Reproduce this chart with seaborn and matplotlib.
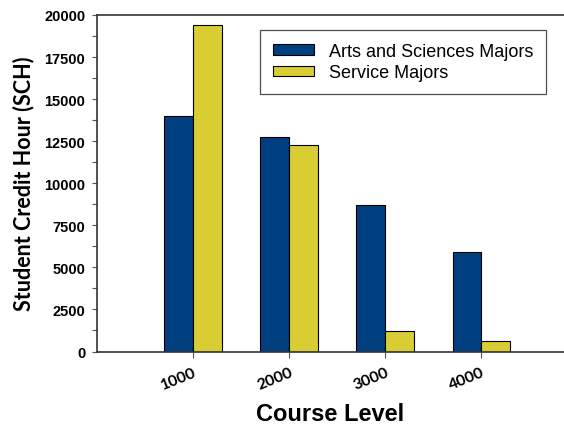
import pandas as pd
import seaborn as sns
import matplotlib.pyplot as plt
from matplotlib.ticker import MultipleLocator

# values
levels = ['1000', '2000', '3000', '4000']
arts_sciences = [14000, 12750, 8700, 5900]
service = [19400, 12300, 1200, 600]
series_names = ['Arts and Sciences Majors', 'Service Majors']
colors = ['#003F80', '#DACD33']

df = pd.DataFrame({
    'level': levels * 2,
    'sch': arts_sciences + service,
    'group': [series_names[0]] * len(levels) + [series_names[1]] * len(levels),
})

sns.set_style('ticks', {'text.color': 'black', 'axes.labelcolor': 'black',
                        'xtick.color': 'black', 'ytick.color': 'black'})
plt.rcParams['font.family'] = ['Liberation Sans', 'DejaVu Sans']

fig = plt.figure(figsize=(5.64, 4.31), dpi=100)
ax = fig.add_axes([97 / 564, 1 - 352.5 / 431, 467 / 564, 336.5 / 431])

sns.barplot(data=df, x='level', y='sch', hue='group', palette=colors,
            saturation=1, width=0.6, edgecolor='black', linewidth=0.8, ax=ax)

ax.set_xlim(-1, 3.86)
ax.set_ylim(0, 20000)
ax.yaxis.set_major_locator(MultipleLocator(2500))
ax.yaxis.set_minor_locator(MultipleLocator(1250))

for s in ['left', 'bottom', 'top']:
    ax.spines[s].set_color('#333333')
    ax.spines[s].set_linewidth(1.2)
ax.spines['right'].set_visible(False)

ax.tick_params(axis='y', which='both', length=3.5, width=0.8, color='#555555', pad=5)
ax.tick_params(axis='x', length=4, width=0.8, color='#555555', pad=6)
for lab in ax.get_yticklabels():
    lab.set_fontweight('bold')
    lab.set_fontsize(10.5)
ax.set_xticks(range(len(levels)))
ax.set_xticklabels(levels, rotation=22, ha='right', rotation_mode='anchor',
                   fontsize=11.5, fontweight='bold', family=['Lato', 'DejaVu Sans'])

ax.set_xlabel('Course Level', fontsize=17, fontweight='bold', labelpad=7)
ax.set_ylabel('Student Credit Hour (SCH)', fontsize=15.5, fontweight='bold',
              family=['Lato', 'DejaVu Sans'], labelpad=7)

leg = ax.legend(loc='upper right', bbox_to_anchor=(0.961, 0.955), fontsize=13,
                frameon=True, fancybox=False, handlelength=2.3, handleheight=0.5,
                labelspacing=0.25, borderpad=0.7, handletextpad=0.8, borderaxespad=0)
leg.get_frame().set_edgecolor('#222222')
leg.get_frame().set_linewidth(0.9)

fig.savefig('out.png', dpi=100)
